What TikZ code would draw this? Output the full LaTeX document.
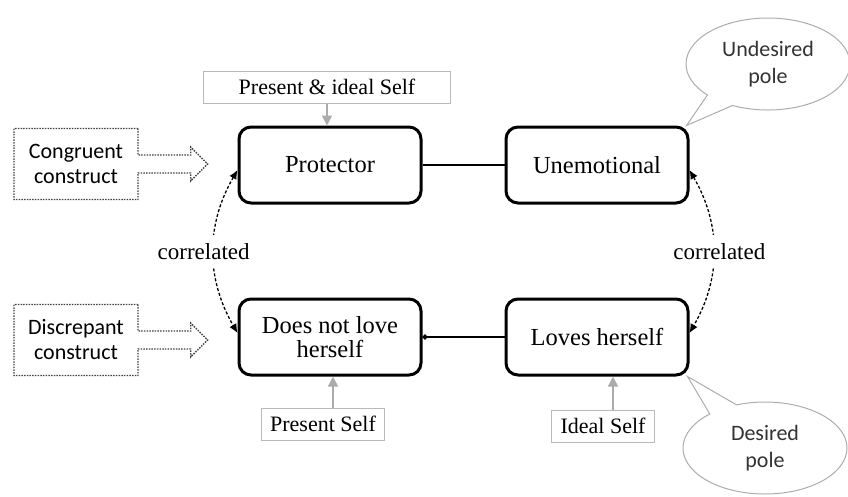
\documentclass[tikz,border=0pt]{standalone}
\usepackage{fontspec}
\setmainfont{Liberation Serif}
\newfontfamily\calibri{Carlito}
\usetikzlibrary{
    arrows.meta,      % For arrow tips
    positioning,      % For relative placement of nodes
    shapes.arrows,    % For the arrow boxes
    shapes.callouts,  % For the speech bubbles
    shapes.geometric  % For ellipses
}

\begin{document}
\begin{tikzpicture}[
    x=1pt, y=-1pt,
    construct/.style={
        draw=black,
        line width=3pt,
        rounded corners=12pt,
        minimum width=182pt,
        minimum height=76pt,
        align=center,
        font=\fontsize{24.5}{24}\selectfont
    },
    selfbox/.style={
        draw=gray!55,
        line width=1pt,
        inner xsep=9pt,
        minimum height=32pt,
        font=\fontsize{22}{24}\selectfont
    },
    kindbox/.style={
        arrow box,
        draw=black!75,
        dash pattern=on 1.5pt off 1.2pt,
        line width=1.3pt,
        minimum width=124pt,
        minimum height=71pt,
        align=center,
        font=\calibri\fontsize{22}{25}\selectfont,
        arrow box arrows={east:69pt},
        arrow box shaft width=18pt,
        arrow box head extend=8pt
    },
    bubble/.style={
        ellipse callout,
        draw=gray!65,
        line width=1pt,
        minimum width=164pt,
        minimum height=92pt,
        align=center,
        text=black!80,
        callout pointer arc=22,
        font=\calibri\fontsize{22}{27}\selectfont
    },
    link/.style={line width=2pt},
    selfarrow/.style={-{Triangle[length=10pt,width=10pt]}, draw=gray!65, line width=1.5pt},
    corr/.style={{Latex[length=9pt,width=8pt]}-{Latex[length=9pt,width=8pt]}, densely dashed, line width=1.3pt},
    corrlabel/.style={fill=white, inner xsep=2pt, inner ysep=8pt, font=\fontsize{23}{24}\selectfont}
]
    \useasboundingbox (0,0) rectangle (848,496);

    % --- Construct poles ---
    \node[construct] (protector) at (330,165) {Protector};
    \node[construct] (unemotional) at (597,165) {Unemotional};
    \node[construct] (notlove) at (330,337) {Does not love\\herself};
    \node[construct] (loves) at (597,337) {Loves herself};

    \draw[link] (protector) -- (unemotional);
    \draw[link, {Circle[length=5pt]}-] (notlove.east) -- (loves.west);

    % --- Self labels ---
    \node[selfbox, minimum width=247pt] (bothself) at (327,87) {Present \& ideal Self};
    \node[selfbox] (presentself) at (323,424) {Present Self};
    \node[selfbox] (idealself) at (603,426) {Ideal Self};

    \draw[selfarrow] (bothself.south) -- (bothself.south |- protector.north);
    \draw[selfarrow] ([xshift=10pt]presentself.north) -- ([xshift=10pt]presentself.north |- notlove.south);
    \draw[selfarrow] ([xshift=10pt]idealself.north) -- ([xshift=10pt]idealself.north |- loves.south);

    % --- Correlations ---
    \draw[corr] ([yshift=-5pt]protector.west) to[bend right=30]
        node[corrlabel, xshift=-10pt] {correlated} ([yshift=4pt]notlove.west);
    \draw[corr] ([yshift=-5pt]unemotional.east) to[bend left=30]
        node[corrlabel, xshift=6pt] {correlated} ([yshift=4pt]loves.east);

    % --- Construct kinds ---
    \node[kindbox] (congruent) at (76,164) {Congruent\\construct};
    \node[kindbox] (discrepant) at (76,340) {Discrepant\\construct};

    % --- Poles ---
    \node[bubble, callout absolute pointer={([xshift=-3pt]unemotional.north east)}] (undesired) at (768,64) {Undesired\\pole};
    \node[bubble, callout absolute pointer={([xshift=-2pt]loves.south east)}] (desired) at (765,448) {Desired\\pole};

\end{tikzpicture}
\end{document}
